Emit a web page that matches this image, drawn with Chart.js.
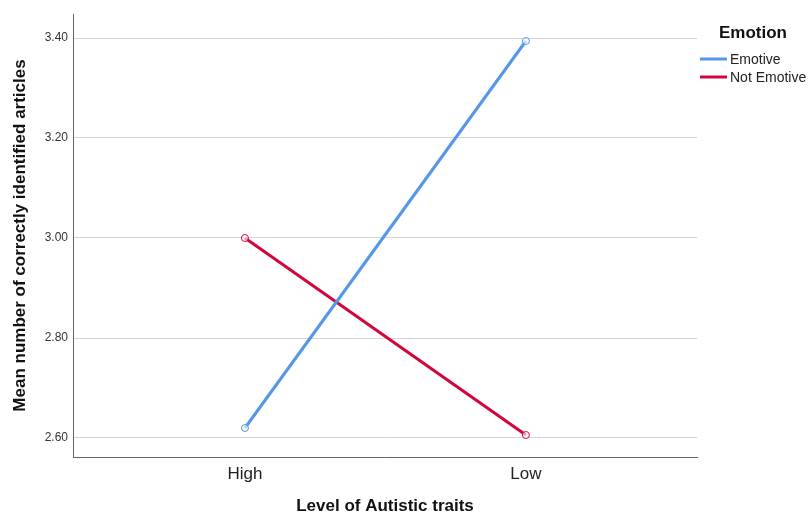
<!DOCTYPE html>
<html>
<head>
<meta charset="utf-8">
<script src="https://cdn.jsdelivr.net/npm/chart.js@4.4.0/dist/chart.umd.min.js"></script>
<style>
  html, body { margin: 0; padding: 0; background: #fff; }
</style>
</head>
<body>
<canvas id="chart" width="808" height="517"></canvas>
<script>
const categories = ['High', 'Low'];
const emotive = [2.62, 3.394];
const notEmotive = [3.00, 2.606];
const yTicks = [2.6, 2.8, 3.0, 3.2, 3.4];
const seriesNames = ['Emotive', 'Not Emotive'];
const seriesColors = ['#5596e6', '#d3063c'];

const FONT = '"Liberation Sans", Arial, sans-serif';
const toPoints = values => values.map((v, i) => ({ x: i, y: v }));

// draws the SPSS-style legend box to the right of the plot
const sideLegend = {
    id: 'sideLegend',
    afterDraw(chart) {
        const ctx = chart.ctx;
        ctx.save();
        ctx.fillStyle = '#111';
        ctx.font = 'bold 17px ' + FONT;
        ctx.textAlign = 'center';
        ctx.textBaseline = 'middle';
        ctx.fillText('Emotion', 753, 33);
        ctx.font = '14px ' + FONT;
        ctx.textAlign = 'left';
        seriesNames.forEach((name, i) => {
            const y = 59 + i * 18;
            ctx.strokeStyle = seriesColors[i];
            ctx.lineWidth = 3;
            ctx.beginPath();
            ctx.moveTo(700, y);
            ctx.lineTo(727, y);
            ctx.stroke();
            ctx.fillStyle = '#222';
            ctx.fillText(name, 730, y + 1);
        });
        ctx.restore();
    }
};

const lineDataset = (label, values, color) => ({
    label,
    data: toPoints(values),
    borderColor: color,
    backgroundColor: '#ffffff',
    borderWidth: 3,
    pointRadius: 3.5,
    pointBorderWidth: 1,
    pointBorderColor: color,
    pointBackgroundColor: 'rgba(255,255,255,0.6)',
    tension: 0
});

new Chart(document.getElementById('chart'), {
    type: 'line',
    data: {
        datasets: [
            lineDataset(seriesNames[0], emotive, seriesColors[0]),
            lineDataset(seriesNames[1], notEmotive, seriesColors[1])
        ]
    },
    options: {
        responsive: false,
        animation: false,
        layout: { padding: { top: 14, right: 111, left: 0, bottom: 0 } },
        plugins: {
            legend: { display: false },
            tooltip: { enabled: false }
        },
        scales: {
            x: {
                type: 'linear',
                min: -0.612,
                max: 1.609,
                afterBuildTicks: axis => { axis.ticks = categories.map((_, i) => ({ value: i })); },
                afterFit: axis => { axis.height = 60; },
                ticks: {
                    callback: v => categories[v] || '',
                    color: '#222',
                    padding: 7,
                    maxRotation: 0,
                    font: { family: FONT, size: 17 }
                },
                grid: { display: true, drawOnChartArea: false, drawTicks: false },
                border: { display: true, color: '#666', width: 1 },
                title: {
                    display: true,
                    text: 'Level of Autistic traits',
                    color: '#111',
                    padding: { top: 0, bottom: 0 },
                    font: { family: FONT, size: 17, weight: 'bold' }
                }
            },
            y: {
                min: 2.562,
                max: 3.448,
                afterBuildTicks: axis => { axis.ticks = yTicks.map(v => ({ value: v })); },
                afterFit: axis => { axis.width = 73; },
                ticks: {
                    callback: v => v.toFixed(2),
                    color: '#333',
                    padding: 5,
                    font: { family: FONT, size: 12 }
                },
                grid: { color: '#d4d4d4', lineWidth: 1, drawTicks: false },
                border: { display: true, color: '#666', width: 1 },
                title: {
                    display: true,
                    text: 'Mean number of correctly identified articles',
                    color: '#111',
                    padding: { top: 10, bottom: 0 },
                    font: { family: FONT, size: 17, weight: 'bold' }
                }
            }
        }
    },
    plugins: [sideLegend]
});
</script>
</body>
</html>
